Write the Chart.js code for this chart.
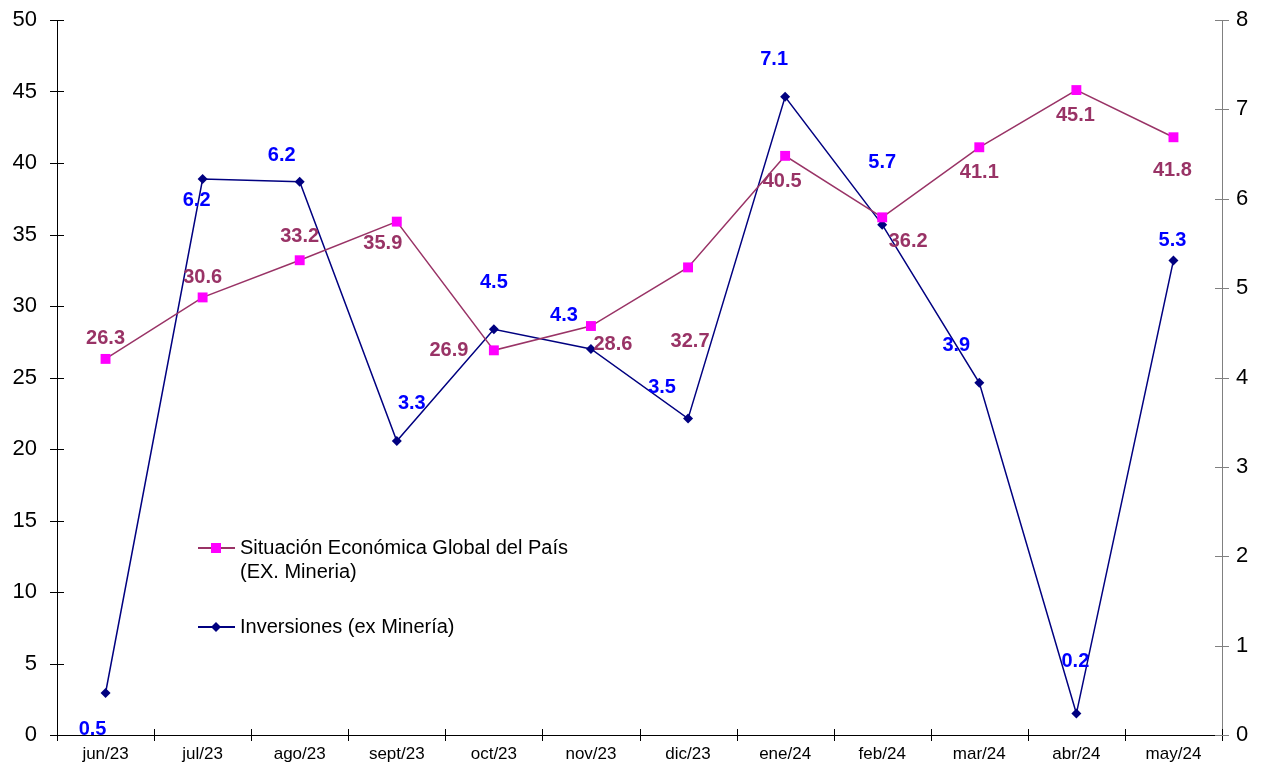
<!DOCTYPE html>
<html>
<head>
<meta charset="utf-8">
<script src="https://cdn.jsdelivr.net/npm/chart.js@4.4.1/dist/chart.umd.min.js"></script>
<style>
  html, body { margin: 0; padding: 0; background: #fff; }
  #wrap { width: 1263px; height: 768px; }
</style>
</head>
<body>
<div id="wrap"><canvas id="chart"></canvas></div>
<script>
var months = ['jun/23', 'jul/23', 'ago/23', 'sept/23', 'oct/23', 'nov/23', 'dic/23', 'ene/24', 'feb/24', 'mar/24', 'abr/24', 'may/24'];
var situacion = [26.3, 30.6, 33.2, 35.9, 26.9, 28.6, 32.7, 40.5, 36.2, 41.1, 45.1, 41.8];
var inversiones = [0.47, 6.22, 6.19, 3.29, 4.54, 4.32, 3.54, 7.14, 5.71, 3.94, 0.24, 5.31];
var leftTicks = [0, 5, 10, 15, 20, 25, 30, 35, 40, 45, 50];
var rightTicks = [0, 1, 2, 3, 4, 5, 6, 7, 8];

// label offsets (dx, dy) from each point, like the original
var sitOffsets = [[0,-20],[0,-20],[0,-24],[-14,22],[-45,0],[22,18],[2,74],[-3,26],[26,24],[0,25],[-1,25],[-1,33]];
var invOffsets = [[-13,36],[-6,21],[-18,-26],[15,-37],[0,-47],[-27,-33],[-26,-31],[-11,-37],[0,-62],[-23,-37],[-1,-52],[-1,-20]];

var pinkLine = '#993366';
var pinkMark = '#FF00FF';
var navy = '#000080';

var axisTicks = {
  id: 'axisTicks',
  afterDraw: function(chart) {
    var ctx = chart.ctx;
    var a = chart.chartArea;
    var y = chart.scales.y, y2 = chart.scales.y2;
    ctx.save();
    ctx.lineWidth = 1;
    ctx.strokeStyle = '#000';
    leftTicks.forEach(function(v) {
      var py = Math.round(y.getPixelForValue(v)) + 0.5;
      ctx.beginPath(); ctx.moveTo(a.left - 7, py); ctx.lineTo(a.left + 7, py); ctx.stroke();
    });
    var step = (a.right - a.left) / months.length;
    for (var i = 0; i <= months.length; i++) {
      var px = Math.round(a.left + i * step) + 0.5;
      ctx.beginPath(); ctx.moveTo(px, a.bottom - 6); ctx.lineTo(px, a.bottom + 6); ctx.stroke();
    }
    ctx.strokeStyle = '#808080';
    rightTicks.forEach(function(v) {
      var py = Math.round(y2.getPixelForValue(v)) + 0.5;
      ctx.beginPath(); ctx.moveTo(a.right - 7, py); ctx.lineTo(a.right + 7, py); ctx.stroke();
    });
    ctx.restore();
  }
};

var pointLabels = {
  id: 'pointLabels',
  afterDatasetsDraw: function(chart) {
    var ctx = chart.ctx;
    ctx.save();
    ctx.font = 'bold 20px "Liberation Sans", Arial, sans-serif';
    ctx.textAlign = 'center';
    ctx.textBaseline = 'middle';
    var sets = [[0, situacion, sitOffsets, '#993366'], [1, inversiones, invOffsets, '#0000FF']];
    sets.forEach(function(s) {
      var meta = chart.getDatasetMeta(s[0]);
      meta.data.forEach(function(pt, i) {
        ctx.fillStyle = s[3];
        ctx.fillText(s[1][i].toFixed(1), pt.x + s[2][i][0], pt.y + s[2][i][1]);
      });
    });
    ctx.restore();
  }
};

var legendBox = {
  id: 'legendBox',
  afterDraw: function(chart) {
    var ctx = chart.ctx;
    ctx.save();
    ctx.font = '20px "Liberation Sans", Arial, sans-serif';
    ctx.textBaseline = 'middle';
    ctx.lineWidth = 2;
    // first item
    ctx.strokeStyle = pinkLine;
    ctx.beginPath(); ctx.moveTo(198, 548); ctx.lineTo(235, 548); ctx.stroke();
    ctx.fillStyle = pinkMark;
    ctx.fillRect(211, 543, 10, 10);
    ctx.fillStyle = '#000';
    ctx.fillText('Situación Económica Global del País', 240, 548);
    ctx.fillText('(EX. Mineria)', 240, 572);
    // second item
    ctx.strokeStyle = navy;
    ctx.beginPath(); ctx.moveTo(198, 627); ctx.lineTo(235, 627); ctx.stroke();
    ctx.fillStyle = navy;
    ctx.beginPath();
    ctx.moveTo(216, 622); ctx.lineTo(221, 627); ctx.lineTo(216, 632); ctx.lineTo(211, 627);
    ctx.closePath(); ctx.fill();
    ctx.fillStyle = '#000';
    ctx.fillText('Inversiones (ex Minería)', 240, 627);
    ctx.restore();
  }
};

function fitVertical(w) {
  return function(scale) {
    scale.width = w;
    scale.paddingTop = 0;
    scale.paddingBottom = 0;
  };
}

new Chart(document.getElementById('chart'), {
  type: 'line',
  data: {
    labels: months,
    datasets: [
      {
        label: 'Situación Económica Global del País (EX. Mineria)',
        data: situacion,
        yAxisID: 'y',
        borderColor: pinkLine,
        borderWidth: 1.5,
        backgroundColor: pinkMark,
        pointStyle: 'rect',
        pointRadius: 7,
        pointBorderWidth: 0,
        pointBackgroundColor: pinkMark,
        pointBorderColor: pinkMark,
        tension: 0
      },
      {
        label: 'Inversiones (ex Minería)',
        data: inversiones,
        yAxisID: 'y2',
        borderColor: navy,
        borderWidth: 1.5,
        backgroundColor: navy,
        pointStyle: 'rectRot',
        pointRadius: 5,
        pointBorderWidth: 0,
        pointBackgroundColor: navy,
        pointBorderColor: navy,
        tension: 0
      }
    ]
  },
  options: {
    responsive: true,
    maintainAspectRatio: false,
    animation: false,
    layout: { padding: { top: 20, left: 0, right: 0, bottom: 0 } },
    plugins: {
      legend: { display: false },
      tooltip: { enabled: false }
    },
    scales: {
      x: {
        offset: true,
        grid: { display: false, drawTicks: false },
        border: { display: true, color: '#000', width: 1 },
        ticks: {
          color: '#000',
          padding: 9,
          maxRotation: 0,
          autoSkip: false,
          font: { family: '"Liberation Sans", Arial, sans-serif', size: 17 }
        },
        afterFit: function(scale) { scale.height = 33; scale.paddingLeft = 0; scale.paddingRight = 0; }
      },
      y: {
        position: 'left',
        min: 0,
        max: 50,
        grid: { display: false, drawTicks: false },
        border: { display: true, color: '#000', width: 1 },
        ticks: {
          stepSize: 5,
          color: '#000',
          padding: 20,
          font: { family: '"Liberation Sans", Arial, sans-serif', size: 22 }
        },
        afterFit: fitVertical(57)
      },
      y2: {
        position: 'right',
        min: 0,
        max: 8,
        grid: { display: false, drawTicks: false },
        border: { display: true, color: '#808080', width: 1 },
        ticks: {
          stepSize: 1,
          color: '#000',
          padding: 14,
          font: { family: '"Liberation Sans", Arial, sans-serif', size: 22 }
        },
        afterFit: fitVertical(41)
      }
    }
  },
  plugins: [axisTicks, pointLabels, legendBox]
});
</script>
</body>
</html>
